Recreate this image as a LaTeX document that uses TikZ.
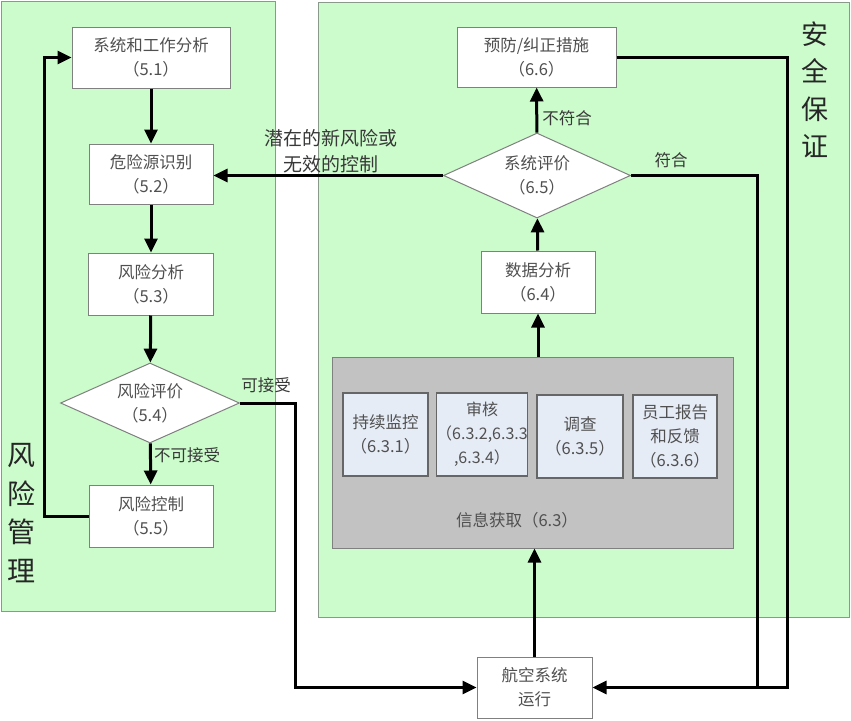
\documentclass[tikz,border=0pt]{standalone}
\usepackage{fontspec}
\setmainfont{Noto Sans CJK SC}
\usetikzlibrary{shapes.geometric,arrows.meta}
\definecolor{panelgreen}{HTML}{CCFCCC}
\definecolor{panelborder}{HTML}{8A9A8A}
\definecolor{boxborder}{HTML}{808080}
\definecolor{boxtext}{HTML}{505050}
\definecolor{labeltext}{HTML}{383838}
\definecolor{graybox}{HTML}{C2C2C2}
\definecolor{subfill}{HTML}{E6ECF6}
\begin{document}
\begin{tikzpicture}[x=1pt,y=-1pt,
  panel/.style={draw=panelborder,fill=panelgreen,line width=1pt},
  procbox/.style={draw=boxborder,fill=white,line width=1pt,inner sep=0pt,align=center,
    text=boxtext,font=\fontsize{16.5}{24}\selectfont},
  decision/.style={diamond,aspect=2.3,draw=boxborder,fill=white,line width=1pt,inner sep=0pt,align=center,
    text=boxtext,font=\fontsize{16.5}{24}\selectfont},
  subbox/.style={draw=black!60,fill=subfill,line width=1.3pt,inner sep=0pt,align=center,
    text=boxtext,font=\fontsize{16.5}{24}\selectfont,minimum height=83pt},
  flow/.style={line width=3pt,-{Triangle[length=14pt,width=13pt]}},
  plain/.style={line width=3pt},
  edgelabel/.style={text=labeltext,font=\fontsize{16.5}{20}\selectfont,inner sep=0pt},
  biglabel/.style={text=black!85,inner sep=0pt}]
\useasboundingbox (0,0) rectangle (851,720);
\fill[white] (0,0) rectangle (851,720);
% panels
\draw[panel] (1.5,1.5) rectangle (275,611);
\draw[panel] (318.5,2.5) rectangle (849,617);
% left column
\node[procbox,minimum width=158pt,minimum height=61pt] (s51) at (151,57.5) {系统和工作分析\\（5.1）};
\node[procbox,minimum width=124pt,minimum height=60pt] (s52) at (151,174) {危险源识别\\（5.2）};
\node[procbox,minimum width=125pt,minimum height=62pt] (s53) at (151,284) {风险分析\\（5.3）};
\node[decision,minimum width=179pt,minimum height=80pt] (d54) at (150,403) {风险评价\\（5.4）};
\node[procbox,minimum width=124pt,minimum height=62pt] (s55) at (151,516) {风险控制\\（5.5）};
% right column
\node[procbox,minimum width=159pt,minimum height=60pt] (s66) at (536.5,57) {预防/纠正措施\\（6.6）};
\node[decision,minimum width=187pt,minimum height=85pt] (d65) at (537,175.5) {系统评价\\（6.5）};
\node[procbox,minimum width=114pt,minimum height=62pt] (s64) at (538,282) {数据分析\\（6.4）};
\node[draw=boxborder,fill=graybox,line width=1pt,minimum width=401pt,minimum height=191pt,inner sep=0pt] (g63) at (532.5,452.5) {};
\node[subbox,minimum width=85pt] (b1) at (385.5,434.5) {持续监控\\（6.3.1）};
\node[subbox,minimum width=90pt,font=\fontsize{16}{24}\selectfont] (b2) at (482,434.5) {审核\\（6.3.2,6.3.3\\,6.3.4）};
\node[subbox,minimum width=86pt] (b3) at (580,436.5) {调查\\（6.3.5）};
\node[subbox,minimum width=84pt] (b4) at (675,436.5) {员工报告\\和反馈\\（6.3.6）};
\node[text=boxtext,font=\fontsize{16.5}{20}\selectfont,inner sep=0pt] (l63) at (517,520) {信息获取（6.3）};
\node[procbox,minimum width=115pt,minimum height=61pt] (air) at (534.5,687.5) {航空系统\\运行};
% big labels
\node[biglabel,align=center,font=\fontsize{28}{38.5}\selectfont] (lrm) at (22,513) {风\\险\\管\\理};
\node[biglabel,align=center,font=\fontsize{27}{37.5}\selectfont] (lsa) at (815,90) {安\\全\\保\\证};
% connectors
\draw[flow] (s51) -- (s52);
\draw[flow] (s52) -- (s53);
\draw[flow] (s53) -- (d54);
\draw[flow] (d54) -- (s55);
\node[edgelabel,anchor=west] (lna) at (154,455) {不可接受};
\coordinate (c55a) at (44,516);
\coordinate (c51a) at (44,57.5);
\draw[flow] (s55.west) -- (c55a) -- (c51a) -- (s51.west);
\coordinate (c54a) at (295,403);
\coordinate (c54b) at (295,687.5);
\draw[flow] (d54.east) -- (c54a) -- (c54b) -- (air.west);
\node[edgelabel] (lacc) at (266,385) {可接受};
\draw[flow] (air.north) -- (air.north |- g63.south);
\draw[flow] (s64.south |- g63.north) -- (s64.south);
\draw[flow] (s64) -- (d65);
\draw[flow] (d65) -- (s66);
\node[edgelabel] (lnc) at (567,118) {不符合};
\draw[flow] (d65.west) -- (s52.east |- d65.west);
\node[edgelabel,align=center,font=\fontsize{19}{26}\selectfont] (lnew) at (331,151) {潜在的新风险或\\无效的控制};
\coordinate (c65a) at (757,175.5);
\coordinate (c65b) at (757,687.5);
\draw[plain] (d65.east) -- (c65a) -- (c65b);
\node[edgelabel] (lc) at (671,160) {符合};
\coordinate (c66a) at (787,57);
\coordinate (c66b) at (787,687.5);
\draw[flow] (s66.east) -- (c66a) -- (c66b) -- (air.east);
\end{tikzpicture}
\end{document}
